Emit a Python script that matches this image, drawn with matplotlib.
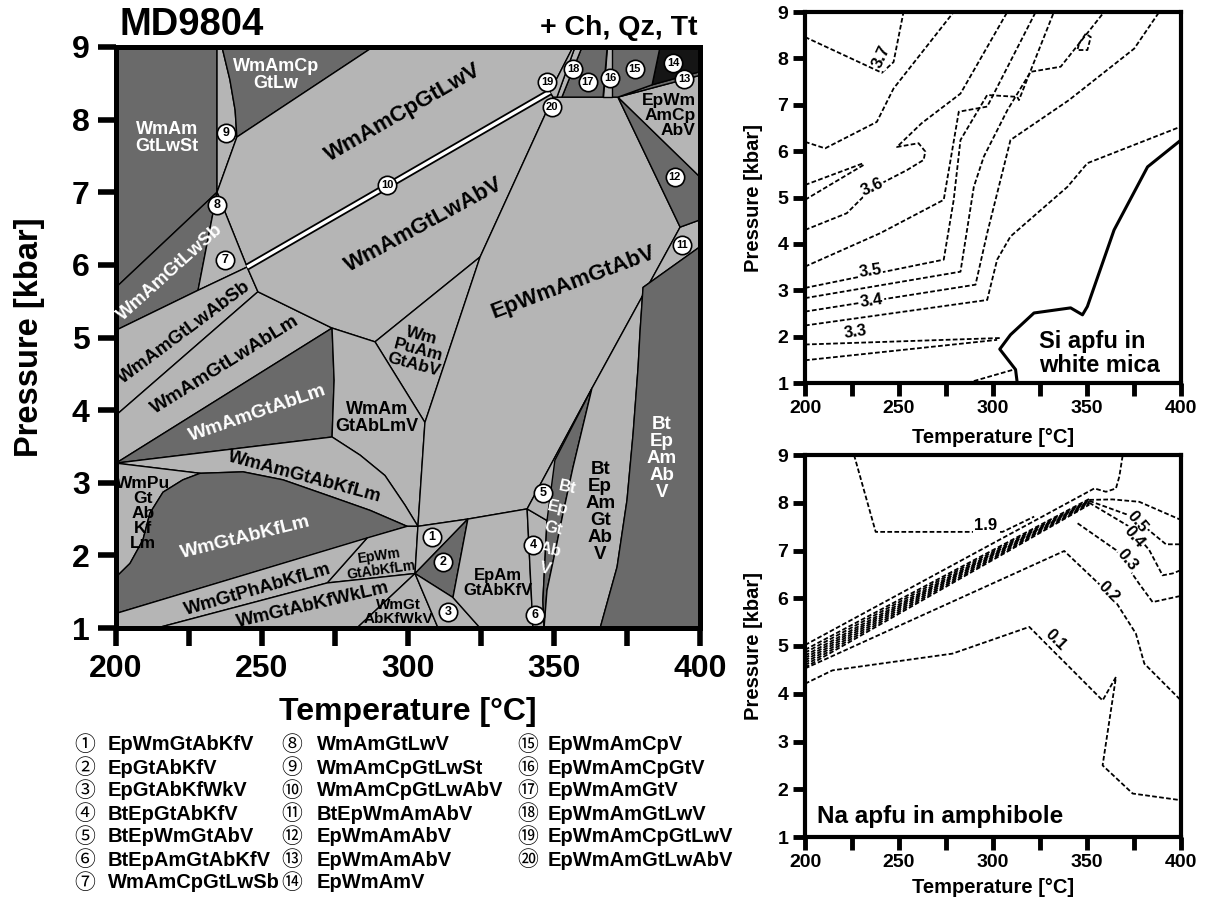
import matplotlib
matplotlib.use("Agg")
import matplotlib.pyplot as plt
from matplotlib import font_manager
from matplotlib.patches import Polygon

LIGHT = "#b5b5b5"
DARK = "#6a6a6a"
BLACK = "#151515"

installed = {f.name for f in font_manager.fontManager.ttflist}
plt.rcParams["font.family"] = ["Liberation Sans", "DejaVu Sans"]
plt.rcParams["font.weight"] = "bold"
plt.rcParams["axes.labelweight"] = "bold"
NARROW = "Liberation Sans Narrow" if "Liberation Sans Narrow" in installed else "Liberation Sans"

# ---- pseudosection fields, vertices as (T [°C], P [kbar]) ----
wm_am_gt_lw_st = [(200, 9), (234.6, 9), (234.6, 7.0), (200, 5.69)]
field_9 = [(234.6, 9), (236.3, 9), (239.0, 8.55), (240.8, 8.13), (241.4, 7.76), (234.6, 7.0)]
wm_am_cp_gt_lw = [(236.3, 9), (288.0, 9), (241.4, 7.76), (240.8, 8.13), (239.0, 8.55)]
wm_am_cp_gt_lw_v = [(241.4, 7.76), (288.0, 9), (356.5, 9), (348.6, 8.38), (244.9, 5.97), (234.6, 7.0)]
wm_am_gt_lw_sb = [(200, 5.69), (234.6, 7.0), (228.1, 5.65), (200, 5.10)]
field_7 = [(234.6, 7.0), (244.9, 5.97), (228.1, 5.65)]
wm_am_gt_lw_ab_sb = [(200, 5.10), (228.1, 5.65), (244.9, 5.97), (248.6, 5.63), (200, 3.93)]
wm_am_gt_lw_ab_lm = [(200, 3.93), (248.6, 5.63), (274.0, 5.13), (200, 3.27)]
wm_am_gt_ab_lm = [(200, 3.27), (274.0, 5.13), (274.7, 4.41), (274.0, 3.63)]
wm_am_gt_lw_ab_v = [(244.9, 5.97), (348.6, 8.38), (349.7, 8.31), (324.7, 6.11),
                    (288.7, 4.94), (274.0, 5.13), (248.6, 5.63)]
wm_pu_am_gt_ab_v = [(288.7, 4.94), (324.7, 6.11), (305.8, 3.83)]
wm_am_gt_ab_lm_v = [(274.0, 5.13), (288.7, 4.94), (305.8, 3.83), (303.4, 2.40), (299.0, 2.69),
                    (292.1, 3.10), (283.6, 3.38), (274.0, 3.63), (274.7, 4.41)]
ep_wm_am_gt_ab_v = [(349.7, 8.31), (371.9, 8.31), (393.2, 6.52), (363.0, 4.30), (340.8, 2.64),
                    (320.5, 2.50), (303.4, 2.40), (305.8, 3.83), (324.7, 6.11)]
wm_am_gt_ab_kf_lm = [(200, 3.27), (274.0, 3.63), (283.6, 3.38), (292.1, 3.10), (299.0, 2.69),
                     (303.4, 2.40), (299.7, 2.40), (287.0, 2.62), (274.3, 2.80), (257.2, 3.04),
                     (243.5, 3.15), (228.8, 3.13)]
wm_pu_gt_ab_kf_lm = [(200, 3.27), (228.8, 3.13), (222.9, 3.04), (216.1, 2.87), (211.6, 2.58),
                     (209.2, 2.21), (204.8, 1.89), (200, 1.70)]
wm_gt_ab_kf_lm = [(200, 1.70), (204.8, 1.89), (209.2, 2.21), (211.6, 2.58), (216.1, 2.87),
                  (222.9, 3.04), (228.8, 3.13), (243.5, 3.15), (257.2, 3.04), (274.3, 2.80),
                  (287.0, 2.62), (299.7, 2.40), (200, 1.20)]
ep_wm_gt_ab_kf_lm = [(286.0, 2.24), (299.7, 2.40), (303.4, 2.40), (302.4, 1.75), (272.3, 1.62)]
field_1 = [(303.4, 2.40), (320.5, 2.50), (302.4, 1.75)]
field_2 = [(320.5, 2.50), (302.4, 1.75), (315.4, 1.42)]
wm_gt_ph_ab_kf_lm = [(200, 1.20), (286.0, 2.24), (272.3, 1.62), (214.0, 1.0), (200, 1.0)]
wm_gt_ab_kf_wk_lm = [(214.0, 1.0), (272.3, 1.62), (302.4, 1.75), (282.5, 1.0)]
wm_gt_ab_kf_wk_v = [(302.4, 1.75), (282.5, 1.0), (310.3, 1.0)]
field_3 = [(302.4, 1.75), (310.3, 1.0), (324.7, 1.0), (315.4, 1.42)]
ep_am_gt_ab_kf_v = [(320.5, 2.50), (340.8, 2.64), (342.8, 1.0), (324.7, 1.0), (315.4, 1.42)]
field_4 = [(340.8, 2.64), (347.6, 2.48), (346.2, 1.38), (346.6, 1.0), (342.8, 1.0)]
field_5 = [(340.8, 2.64), (363.0, 4.30), (347.6, 2.48)]
bt_ep_gt_ab_v = [(363.0, 4.30), (350.3, 3.31), (347.6, 2.48), (346.2, 1.38), (346.6, 1.0),
                 (347.6, 1.52), (350.3, 2.03), (353.1, 2.58), (356.5, 3.21)]
bt_ep_am_gt_ab_v = [(363.0, 4.30), (393.2, 6.52), (400, 6.62), (400, 6.25), (380.5, 5.69),
                    (379.5, 5.10), (378.8, 4.59), (377.1, 3.68), (375.0, 2.76), (371.6, 1.84),
                    (365.8, 1.0), (346.6, 1.0), (347.6, 1.52), (350.3, 2.03), (353.1, 2.58),
                    (356.5, 3.21)]
bt_ep_am_ab_v = [(380.5, 5.69), (400, 6.25), (400, 1.0), (365.8, 1.0), (371.6, 1.84),
                 (375.0, 2.76), (377.1, 3.68), (378.8, 4.59), (379.5, 5.10)]
field_12 = [(371.9, 8.31), (400, 7.21), (400, 6.62), (393.2, 6.52)]
ep_wm_am_cp_ab_v = [(371.9, 8.31), (400, 8.61), (400, 7.21)]
field_13 = [(371.9, 8.31), (383.6, 8.48), (400, 8.66), (400, 8.61)]
field_14 = [(386.3, 9), (400, 9), (400, 8.66), (383.6, 8.48)]
field_15 = [(369.9, 9), (386.3, 9), (383.6, 8.48), (371.9, 8.31), (369.9, 8.31)]
field_16 = [(368.2, 9), (369.9, 9), (369.9, 8.31), (366.8, 8.31)]
field_17 = [(359.6, 9), (368.2, 9), (366.8, 8.31), (352.7, 8.31)]
field_18 = [(357.2, 9), (359.6, 9), (352.7, 8.31), (351.0, 8.31)]
field_19 = [(356.5, 9), (357.2, 9), (351.0, 8.31), (349.7, 8.31), (348.6, 8.38)]
reaction_10 = [(244.9, 5.97), (348.6, 8.38)]

# small-field numbers and their positions
field_numbers = list(range(1, 21))
number_T = [308.2, 312.0, 313.7, 342.8, 346.2, 343.5, 237.3, 234.6, 237.7, 292.8,
            393.8, 391.4, 394.5, 390.8, 377.7, 369.2, 361.6, 356.5, 347.6, 349.3]
number_P = [2.25, 1.91, 1.22, 2.14, 2.86, 1.18, 6.07, 6.82, 7.82, 7.10,
            6.27, 7.21, 8.56, 8.78, 8.70, 8.57, 8.52, 8.70, 8.52, 8.17]
legend_names = ["EpWmGtAbKfV", "EpGtAbKfV", "EpGtAbKfWkV", "BtEpGtAbKfV", "BtEpWmGtAbV",
                "BtEpAmGtAbKfV", "WmAmCpGtLwSb", "WmAmGtLwV", "WmAmCpGtLwSt", "WmAmCpGtLwAbV",
                "BtEpWmAmAbV", "EpWmAmAbV", "EpWmAmAbV", "EpWmAmV", "EpWmAmCpV", "EpWmAmCpGtV",
                "EpWmAmGtV", "EpWmAmGtLwV", "EpWmAmCpGtLwV", "EpWmAmGtLwAbV"]

# ---- Si (apfu) in white mica, isopleths ----
si_a = [(200, 8.46), (240.9, 7.69), (247.1, 7.92), (252.4, 9.0)]
si_b = [(200, 6.20), (210.7, 6.06), (238.2, 6.63), (247.1, 7.35), (279.1, 9.0)]
si_c = [(200, 5.27), (231.1, 5.74)]
si_d = [(200, 4.95), (231.1, 5.70)]
si_e = [(200, 4.30), (222.2, 4.66), (235.6, 5.20), (254.2, 5.59), (263.1, 5.81), (264.0, 5.99),
        (260.4, 6.17), (248.9, 6.09), (262.0, 6.60), (282.7, 7.24), (307.6, 9.0)]
si_f = [(200, 3.51), (240.0, 4.23), (273.8, 4.95), (281.8, 6.85), (296.9, 6.96), (298.7, 7.10),
        (322.7, 9.0)]
si_g = [(200, 3.05), (273.8, 3.66), (279.1, 4.95), (282.7, 6.24), (296.9, 7.21), (312.9, 7.17),
        (313.8, 7.10), (332.4, 9.0)]
si_h = [(200, 2.83), (282.7, 3.40), (289.8, 5.23), (295.1, 5.88), (307.6, 6.88), (320.0, 7.71),
        (336.0, 7.82), (359.1, 9.0)]
si_i = [(200, 2.54), (290.7, 3.12), (296.9, 4.23), (309.3, 6.24), (340.4, 7.10), (375.1, 8.21),
        (388.4, 9.0)]
si_j = [(200, 2.24), (296.9, 2.79), (302.2, 3.66), (309.3, 4.16), (339.6, 5.23), (350.2, 5.74),
        (400, 6.53)]
si_k = [(200, 1.83), (304.0, 1.97)]
si_l = [(200, 1.49), (302.2, 1.93)]
si_m = [(286.2, 1.0), (311.1, 1.29)]
si_loop = [(345.8, 8.32), (349.3, 8.53), (352.0, 8.46), (350.2, 8.18), (344.9, 8.18), (345.8, 8.32)]
si_limit = [(312.9, 1.0), (312.0, 1.29), (303.6, 1.73), (309.3, 2.04), (321.8, 2.51),
            (341.3, 2.62), (347.6, 2.47), (350.2, 2.65), (364.4, 4.30), (382.2, 5.66),
            (400, 6.24)]
si_isopleths = [si_a, si_b, si_c, si_d, si_e, si_f, si_g, si_h, si_i, si_j, si_k, si_l, si_m, si_loop]

# ---- Na (apfu) in amphibole, isopleths ----
na_19 = [(226.1, 9.0), (237.6, 7.39), (305.1, 7.39), (321.9, 7.71)]
na_top = [(200, 5.02), (353.9, 8.30), (360.1, 8.23), (365.4, 8.30), (367.2, 8.55), (369.0, 9.0)]
na_band_left = [4.55, 4.60, 4.65, 4.70, 4.75, 4.80, 4.86, 4.92]
na_band_right = [7.96, 7.98, 8.00, 8.02, 8.03, 8.04, 8.06, 8.08]
na_05 = [(351.2, 8.06), (363.6, 8.07), (377.8, 8.02), (400, 7.64)]
na_04 = [(351.2, 8.04), (374.3, 7.71), (384.9, 7.36), (392.0, 7.13), (400, 7.13)]
na_035 = [(351.2, 8.00), (372.5, 7.50), (383.1, 7.01), (390.2, 6.48), (395.6, 6.52), (400, 6.59)]
na_03 = [(345.0, 7.57), (365.4, 7.01), (377.8, 6.30), (384.9, 5.92), (400, 6.05)]
na_02 = [(200, 4.53), (337.9, 6.99), (363.6, 6.03), (376.0, 5.26), (380.5, 4.63), (400, 3.86)]
na_01 = [(200, 4.21), (214.6, 4.49), (278.4, 4.84), (319.3, 5.40), (358.3, 3.86), (365.4, 4.35),
         (358.3, 2.50), (374.3, 1.91), (400, 1.77)]
na_isopleths = [na_19, na_top, na_05, na_04, na_035, na_03, na_02, na_01]

fig = plt.figure(figsize=(12.06, 9.0), dpi=100)

# ================= pseudosection =================
ax = fig.add_axes([116 / 1206, 1 - 628 / 900, 584 / 1206, 581 / 900])
ax.set_xlim(200, 400)
ax.set_ylim(1, 9)
ax.set_facecolor(LIGHT)

fields = [
    (wm_am_gt_lw_st, DARK), (field_9, LIGHT), (wm_am_cp_gt_lw, DARK), (wm_am_cp_gt_lw_v, LIGHT),
    (wm_am_gt_lw_sb, DARK), (field_7, LIGHT), (wm_am_gt_lw_ab_sb, LIGHT), (wm_am_gt_lw_ab_lm, LIGHT),
    (wm_am_gt_ab_lm, DARK), (wm_am_gt_lw_ab_v, LIGHT), (wm_pu_am_gt_ab_v, LIGHT),
    (wm_am_gt_ab_lm_v, LIGHT), (ep_wm_am_gt_ab_v, LIGHT), (wm_am_gt_ab_kf_lm, LIGHT),
    (wm_pu_gt_ab_kf_lm, LIGHT), (wm_gt_ab_kf_lm, DARK), (ep_wm_gt_ab_kf_lm, LIGHT),
    (field_1, LIGHT), (field_2, DARK), (wm_gt_ph_ab_kf_lm, LIGHT), (wm_gt_ab_kf_wk_lm, LIGHT),
    (wm_gt_ab_kf_wk_v, LIGHT), (field_3, LIGHT), (ep_am_gt_ab_kf_v, LIGHT), (field_4, LIGHT),
    (field_5, LIGHT), (bt_ep_gt_ab_v, DARK), (bt_ep_am_gt_ab_v, LIGHT), (bt_ep_am_ab_v, DARK),
    (field_12, DARK), (ep_wm_am_cp_ab_v, LIGHT), (field_13, DARK), (field_14, BLACK),
    (field_15, DARK), (field_16, LIGHT), (field_17, DARK), (field_18, LIGHT), (field_19, LIGHT),
]
for verts, shade in fields:
    ax.add_patch(Polygon(verts, closed=True, facecolor=shade, edgecolor="black",
                         linewidth=1.0, joinstyle="round", zorder=1))

rx, ry = zip(*reaction_10)
ax.plot(rx, ry, color="black", lw=5.0, solid_capstyle="butt", zorder=2)
ax.plot(rx, ry, color="white", lw=2.4, solid_capstyle="butt", zorder=3)

ax.scatter(number_T, number_P, s=175, facecolor="white", edgecolor="black", linewidth=1.2, zorder=5)
for n, t, p in zip(field_numbers, number_T, number_P):
    ax.text(t, p, str(n), ha="center", va="center", fontsize=8 if n > 9 else 9,
            fontweight="bold", zorder=6)

# field names
names = [
    ("WmAm\nGtLwSt", 217.5, 7.75, 0, "white", 13),
    ("WmAmCp\nGtLw", 254.8, 8.61, 0, "white", 13),
    ("WmAmCpGtLwV", 298.3, 8.10, 30, "black", 16),
    ("WmAmGtLwAbV", 305.5, 6.55, 28.5, "black", 16),
    ("EpWmAmGtAbV", 356.5, 5.75, 20.6, "black", 16),
    ("WmAmGtLwSb", 218.5, 5.90, 42, "white", 13.5),
    ("WmAmGtLwAbSb", 223.6, 5.07, 36.7, "black", 13.5),
    ("WmAmGtLwAbLm", 237.3, 4.62, 32, "black", 14),
    ("WmAmGtAbLm", 248.6, 3.96, 19, "white", 14),
    ("WmAm\nGtAbLmV", 289.4, 3.89, 0, "black", 13),
    ("Wm\nPuAm\nGtAbV", 303.4, 4.83, -15, "black", 12.5),
    ("WmAmGtAbKfLm", 264.7, 3.08, -15, "black", 13.5),
    ("WmPu\nGt\nAb\nKf\nLm", 209.2, 2.58, 0, "black", 12.5),
    ("WmGtAbKfLm", 244.2, 2.25, 14, "white", 14),
    ("WmGtPhAbKfLm", 248.6, 1.52, 16, "black", 13.5),
    ("WmGtAbKfWkLm", 267.5, 1.31, 13, "black", 13.5),
    ("EpWm\nGtAbKfLm", 290.4, 1.89, 8, "black", 10),
    ("WmGt\nAbKfWkV", 296.6, 1.22, 0, "black", 11),
    ("EpAm\nGtAbKfV", 330.8, 1.62, 0, "black", 12),
    ("Bt\nEp\nAm\nGt\nAb\nV", 365.8, 2.60, 0, "black", 13.5),
    ("Bt\nEp\nAm\nAb\nV", 387.0, 3.34, 0, "white", 13.5),
]
for text, t, p, rot, col, fs in names:
    ax.text(t, p, text, ha="center", va="center", rotation=rot, rotation_mode="anchor",
            color=col, fontsize=fs, fontweight="bold", linespacing=1.0, zorder=4)
ax.text(398.6, 8.06, "EpWm\nAmCp\nAbV", ha="right", va="center", fontsize=12.5,
        fontweight="bold", linespacing=1.0, zorder=4)
for word, t, p in zip(["Bt", "Ep", "Gt", "Ab", "V"], [354.5, 351.4, 349.7, 348.6, 346.9],
                      [2.94, 2.65, 2.37, 2.07, 1.82]):
    ax.text(t, p, word, ha="center", va="center", color="white", fontsize=12,
            fontweight="bold", rotation=-12, zorder=4)

ax.set_xticks([200, 250, 300, 350, 400])
ax.set_xticks([225, 275, 325, 375], minor=True)
ax.set_yticks(range(1, 10))
ax.tick_params(which="both", direction="out", length=13, width=4, labelsize=23, pad=6)
for sp in ax.spines.values():
    sp.set_linewidth(3.6)
ax.set_xlabel("Temperature [°C]", fontsize=23)
ax.xaxis.set_label_coords(0.5, -0.118)
ax.set_ylabel("Pressure [kbar]", fontsize=23.5)
ax.yaxis.set_label_coords(-0.122, 0.5)

fig.text(120 / 1206, 1 - 25 / 900, "MD9804", fontsize=27.5, fontweight="bold", va="center")
fig.text(697 / 1206, 1 - 28 / 900, "+ Ch, Qz, Tt", fontsize=20.5, fontweight="bold",
         va="center", ha="right")

# legend of numbered fields
col_sym = [85, 292, 528]
col_txt = [108, 317, 548]
for i, name in enumerate(legend_names):
    col = 0 if i < 7 else (1 if i < 14 else 2)
    row = i - (0, 7, 14)[col]
    y = 1 - (745 + 23 * row) / 900
    fig.text(col_sym[col] / 1206, y, chr(0x2460 + i), ha="center", va="center",
             fontsize=15, fontweight="normal", family=["Noto Sans CJK JP", "DejaVu Sans"])
    fig.text(col_txt[col] / 1206, y, name, ha="left", va="center",
             fontsize=17 if NARROW != "Liberation Sans" else 14.5, fontweight="bold",
             family=[NARROW, "DejaVu Sans"])


def style_small(a):
    a.set_xlim(200, 400)
    a.set_ylim(1, 9)
    a.set_xticks([200, 250, 300, 350, 400])
    a.set_xticks([225, 275, 325, 375], minor=True)
    a.set_yticks(range(1, 10))
    a.tick_params(which="both", direction="out", length=9, width=3.5, labelsize=14, pad=3)
    for sp in a.spines.values():
        sp.set_linewidth(3.0)
    a.set_xlabel("Temperature [°C]", fontsize=14.5)
    a.set_ylabel("Pressure [kbar]", fontsize=14.5)
    a.yaxis.set_label_coords(-0.112, 0.5)


DASH = (0, (2.6, 1.3))

# ================= Si in white mica =================
ax_si = fig.add_axes([805 / 1206, 1 - 383 / 900, 376 / 1206, 371 / 900])
style_small(ax_si)
ax_si.xaxis.set_label_coords(0.5, -0.12)
for line in si_isopleths:
    t, p = zip(*line)
    ax_si.plot(t, p, color="black", lw=1.3, ls=DASH)
t, p = zip(*si_limit)
ax_si.plot(t, p, color="black", lw=2.2)
for lab, t, p, rot in [("3.7", 240.9, 8.03, 65), ("3.6", 235.6, 5.23, 25), ("3.5", 234.7, 3.42, 8),
                       ("3.4", 235.6, 2.78, 8), ("3.3", 226.7, 2.10, 8)]:
    ax_si.text(t, p, lab, ha="center", va="center", rotation=rot, fontsize=12, fontweight="bold",
               bbox=dict(boxstyle="square,pad=0.05", fc="white", ec="none"))
ax_si.text(324.4, 1.63, "Si apfu in\nwhite mica", ha="left", va="center", fontsize=17,
           fontweight="bold", linespacing=1.05)

# ================= Na in amphibole =================
ax_na = fig.add_axes([805 / 1206, 1 - 837 / 900, 376 / 1206, 382 / 900])
style_small(ax_na)
ax_na.xaxis.set_label_coords(0.5, -0.107)
for line in na_isopleths:
    t, p = zip(*line)
    ax_na.plot(t, p, color="black", lw=1.3, ls=DASH)
for pl, pr in zip(na_band_left, na_band_right):
    ax_na.plot([200, 351.2], [pl, pr], color="black", lw=1.3, ls=DASH)
for lab, t, p, rot in [("1.9", 296.2, 7.53, 0), ("0.5", 376.9, 7.60, -50), ("0.4", 375.2, 7.29, -50),
                       ("0.3", 371.6, 6.80, -50), ("0.2", 361.8, 6.13, -45), ("0.1", 333.5, 5.12, -45)]:
    ax_na.text(t, p, lab, ha="center", va="center", rotation=rot, fontsize=12, fontweight="bold",
               bbox=dict(boxstyle="square,pad=0.05", fc="white", ec="none"))
ax_na.text(206.4, 1.42, "Na apfu in amphibole", ha="left", va="center", fontsize=17.5,
           fontweight="bold")

fig.savefig("out.png", dpi=100)
